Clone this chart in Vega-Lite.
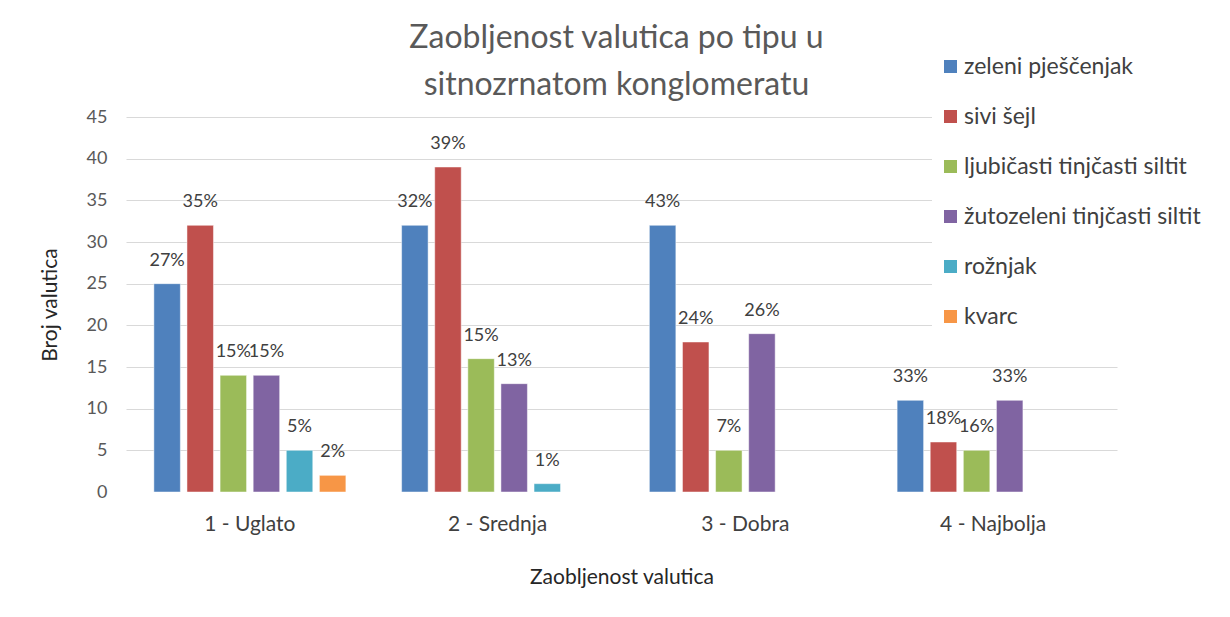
{
  "$schema": "https://vega.github.io/schema/vega-lite/v6.json",
  "width": 991,
  "height": 375,
  "autosize": {"type": "none"},
  "padding": {"left": 126, "top": 117, "right": 113, "bottom": 125},
  "background": "white",
  "config": {
    "font": "Lato",
    "view": {"stroke": null}
  },
  "title": {
    "text": ["Zaobljenost valutica po tipu u", "sitnozrnatom konglomeratu"],
    "fontSize": 32,
    "font": "Lato",
    "fontWeight": "normal",
    "color": "#595959",
    "lineHeight": 47,
    "anchor": "middle",
    "frame": "group",
    "dx": -5,
    "dy": 64,
    "offset": 10
  },
  "data": {
    "values": [
      {"kategorija": "1 - Uglato", "tip": "zeleni pješčenjak", "broj": 25, "postotak": "27%"},
      {"kategorija": "1 - Uglato", "tip": "sivi šejl", "broj": 32, "postotak": "35%"},
      {"kategorija": "1 - Uglato", "tip": "ljubičasti tinjčasti siltit", "broj": 14, "postotak": "15%"},
      {"kategorija": "1 - Uglato", "tip": "žutozeleni tinjčasti siltit", "broj": 14, "postotak": "15%"},
      {"kategorija": "1 - Uglato", "tip": "rožnjak", "broj": 5, "postotak": "5%"},
      {"kategorija": "1 - Uglato", "tip": "kvarc", "broj": 2, "postotak": "2%"},
      {"kategorija": "2 - Srednja", "tip": "zeleni pješčenjak", "broj": 32, "postotak": "32%"},
      {"kategorija": "2 - Srednja", "tip": "sivi šejl", "broj": 39, "postotak": "39%"},
      {"kategorija": "2 - Srednja", "tip": "ljubičasti tinjčasti siltit", "broj": 16, "postotak": "15%"},
      {"kategorija": "2 - Srednja", "tip": "žutozeleni tinjčasti siltit", "broj": 13, "postotak": "13%"},
      {"kategorija": "2 - Srednja", "tip": "rožnjak", "broj": 1, "postotak": "1%"},
      {"kategorija": "3 - Dobra", "tip": "zeleni pješčenjak", "broj": 32, "postotak": "43%"},
      {"kategorija": "3 - Dobra", "tip": "sivi šejl", "broj": 18, "postotak": "24%"},
      {"kategorija": "3 - Dobra", "tip": "ljubičasti tinjčasti siltit", "broj": 5, "postotak": "7%"},
      {"kategorija": "3 - Dobra", "tip": "žutozeleni tinjčasti siltit", "broj": 19, "postotak": "26%"},
      {"kategorija": "4 - Najbolja", "tip": "zeleni pješčenjak", "broj": 11, "postotak": "33%"},
      {"kategorija": "4 - Najbolja", "tip": "sivi šejl", "broj": 6, "postotak": "18%"},
      {"kategorija": "4 - Najbolja", "tip": "ljubičasti tinjčasti siltit", "broj": 5, "postotak": "16%"},
      {"kategorija": "4 - Najbolja", "tip": "žutozeleni tinjčasti siltit", "broj": 11, "postotak": "33%"}
    ]
  },
  "encoding": {
    "x": {
      "field": "kategorija",
      "type": "nominal",
      "sort": null,
      "scale": {"paddingInner": 0.225, "paddingOuter": 0.1125},
      "axis": {
        "title": "Zaobljenost valutica",
        "labelAngle": 0,
        "labelFontSize": 21,
        "labelColor": "#404040",
        "labelPadding": 21,
        "ticks": false,
        "domain": false,
        "titleFontSize": 21,
        "titleFontWeight": "normal",
        "titleColor": "#262626",
        "titlePadding": 32
      }
    },
    "xOffset": {
      "field": "tip",
      "type": "nominal",
      "scale": {
        "domain": ["zeleni pješčenjak", "sivi šejl", "ljubičasti tinjčasti siltit", "žutozeleni tinjčasti siltit", "rožnjak", "kvarc"],
        "paddingInner": 0.2,
        "paddingOuter": 0
      }
    },
    "y": {
      "field": "broj",
      "type": "quantitative",
      "scale": {"domain": [0, 45], "nice": false},
      "axis": {
        "title": "Broj valutica",
        "values": [0, 5, 10, 15, 20, 25, 30, 35, 40, 45],
        "labelFontSize": 18,
        "labelColor": "#595959",
        "labelPadding": 19,
        "ticks": false,
        "domain": false,
        "gridColor": "#d9d9d9",
        "gridWidth": 1,
        "gridOpacity": {"condition": {"test": "datum.value === 0", "value": 0}, "value": 1},
        "titleFontSize": 21,
        "titleFontWeight": "normal",
        "titleColor": "#262626",
        "titlePadding": 26
      }
    }
  },
  "layer": [
    {
      "mark": {"type": "bar", "stroke": "#ffffff", "strokeWidth": 0.8, "strokeOpacity": 0.6},
      "encoding": {
        "color": {
          "field": "tip",
          "type": "nominal",
          "scale": {
            "domain": ["zeleni pješčenjak", "sivi šejl", "ljubičasti tinjčasti siltit", "žutozeleni tinjčasti siltit", "rožnjak", "kvarc"],
            "range": ["#4f81bd", "#c0504d", "#9bbb59", "#8064a2", "#4bacc6", "#f79646"]
          },
          "legend": {
            "title": null,
            "orient": "none",
            "legendX": 806,
            "legendY": -69,
            "symbolType": "square",
            "symbolSize": 169,
            "symbolStrokeWidth": 0,
            "labelFontSize": 23,
            "labelColor": "#404040",
            "labelOffset": 2,
            "rowPadding": 26,
            "padding": 7,
            "fillColor": "white",
            "labelLimit": 400
          }
        }
      }
    },
    {
      "mark": {"type": "text", "baseline": "middle", "dy": -23, "fontSize": 18, "color": "#404040"},
      "encoding": {
        "text": {"field": "postotak", "type": "nominal"}
      }
    }
  ]
}
